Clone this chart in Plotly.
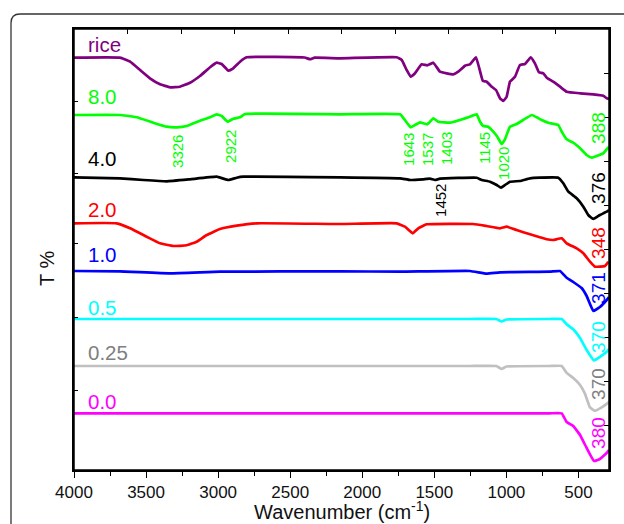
import plotly.graph_objects as go

# ---------------- data (wavenumber cm-1, offset transmittance) ----------------
rice_x = [4000, 3681, 3611, 3542, 3473, 3403, 3334, 3265, 3195, 3126, 3056, 3010, 2975, 2929, 2895, 2848, 2802,
          2400, 2363, 2330, 2154, 1761, 1726, 1692, 1664, 1634, 1588, 1549, 1507, 1461, 1414, 1368, 1334, 1287,
          1253, 1211, 1188, 1164, 1137, 1102, 1072, 1044, 1021, 998, 975, 940, 906, 871, 831, 802, 774, 744, 720,
          675, 628, 582, 489, 397, 328, 304, 288]
rice_y = [412.3, 412.3, 408.3, 400, 391.7, 385.7, 382.7, 383.3, 387.3, 394, 402.7, 407.3, 406, 399.3, 401.7, 408.3,
          412.7, 412.5, 410.8, 412.3, 411.7, 412.7, 410, 400, 393.3, 396.7, 405.7, 404.7, 407.3, 398.3, 396.7, 395.7,
          398.3, 404.3, 405.7, 412.7, 401.7, 389.3, 388.3, 383.3, 380, 371.7, 369, 373.3, 388.3, 393.3, 405, 406,
          412.7, 406.7, 397.7, 396.7, 392.3, 388.3, 383.3, 378.3, 376.7, 375.7, 374.3, 371.7, 371]

s80_x = [4000, 3681, 3565, 3450, 3357, 3287, 3218, 3126, 3056, 3010, 2975, 2934, 2895, 2848, 2814, 2154, 1738,
         1704, 1664, 1634, 1600, 1549, 1507, 1472, 1391, 1322, 1253, 1206, 1183, 1160, 1126, 1091, 1063, 1033,
         1010, 975, 929, 883, 824, 790, 755, 709, 640, 616, 582, 536, 489, 443, 408, 373, 328, 304, 288]
s80_y = [355, 355, 352.7, 347.3, 343.3, 342.7, 344, 349.3, 352.7, 355.7, 354, 348.3, 351.3, 352.7, 356, 355.7,
         355.7, 350, 342.7, 345, 347.7, 345.7, 351.7, 348.3, 347.3, 350, 353.3, 355.7, 348.3, 344, 343.3, 338.3,
         333.3, 326, 330.7, 343.3, 346, 350, 355, 352.7, 350, 347.3, 345, 338.3, 330.7, 327.3, 321.7, 315, 312.3,
         314, 316.7, 320.7, 323]

s40_x = [4000, 3681, 3519, 3357, 3195, 3010, 2929, 2871, 2825, 2154, 1738, 1669, 1577, 1530, 1495, 1461, 1206,
         1171, 1114, 1067, 1037, 1010, 975, 906, 836, 767, 640, 605, 570, 512, 466, 432, 397, 351, 304, 288]
s40_y = [292.7, 291.7, 290, 288.7, 290.7, 293.3, 290, 292.3, 293.3, 292.7, 291.7, 290, 290.7, 291.3, 290, 291.3,
         292.3, 290, 288.3, 285, 282.3, 285, 288.3, 289, 291.7, 292.3, 292.3, 286.7, 278.3, 271.7, 263.3, 255, 251,
         255, 258.3, 260]

s20_x = [4000, 3704, 3611, 3496, 3403, 3311, 3218, 3149, 3079, 2987, 2871, 2732, 2154, 1761, 1704, 1650, 1611,
         1553, 1230, 1137, 1044, 998, 929, 836, 720, 675, 616, 582, 512, 466, 420, 385, 316, 293]
s20_y = [246.7, 246.7, 241.7, 233.3, 226.7, 224, 224.7, 228.3, 235, 241, 244.3, 246.7, 246, 246.7, 243.3, 236.7,
         241.7, 245.7, 246, 244, 241.7, 243.3, 240, 235.7, 230.7, 230, 231.7, 226.7, 221.7, 216.7, 208.3, 203.3,
         204, 208.3]

s10_x = [4000, 3681, 3334, 2987, 2154, 1738, 1253, 1137, 1044, 698, 628, 582, 536, 478, 443, 397, 351, 304, 288]
s10_y = [199, 198.7, 196.7, 198.3, 198.7, 198.3, 199, 196.3, 197.7, 198.3, 199, 192.3, 188, 182, 174, 159, 163,
         170, 173]

s05_x = [4000, 2154, 1253, 1070, 1033, 1000, 700, 616, 582, 536, 489, 443, 392, 351, 304, 288]
s05_y = [151, 151, 151, 151, 148.5, 150.5, 151, 151, 145.8, 140.7, 132, 120, 109.6, 113.1, 118.2, 121]

s025_x = [4000, 2154, 1253, 1070, 1033, 1000, 700, 616, 582, 536, 489, 455, 420, 385, 339, 304, 288]
s025_y = [104, 104, 104, 104, 101, 103.5, 104, 104, 97.1, 92, 85, 76.4, 62.6, 59.2, 62.6, 66.1, 68]

s00_x = [4000, 2154, 1253, 700, 616, 582, 536, 489, 443, 392, 351, 304, 288]
s00_y = [56.7, 56.7, 56.7, 56.7, 56.7, 48, 44, 35, 22, 9, 11, 17, 20]

series_names = ["rice", "8.0", "4.0", "2.0", "1.0", "0.5", "0.25", "0.0"]
series_x = [rice_x, s80_x, s40_x, s20_x, s10_x, s05_x, s025_x, s00_x]
series_y = [rice_y, s80_y, s40_y, s20_y, s10_y, s05_y, s025_y, s00_y]
line_colors = ["#800080", "#00FF00", "#000000", "#FF0000", "#0000FF", "#00FFFF", "#C0C0C0", "#FF00FF"]
label_colors = ["#800080", "#00FF00", "#000000", "#FF0000", "#0000FF", "#00FFFF", "#808080", "#FF00FF"]
label_y = [426, 374, 312, 261, 216, 163, 118, 69]
label_x = 3915

# peak labels: text, x, y, colour, size
peak_text = ["3326", "2922", "1643", "1537", "1403", "1145", "1020", "388",
             "1452", "376", "348", "371", "370", "370", "380"]
peak_x = [3286, 2918, 1683, 1551, 1419, 1155, 1024, 365,
          1461, 365, 365, 365, 365, 365, 365]
peak_y = [319, 324, 321, 321, 322, 322, 307, 342,
          270, 282, 227, 182, 133, 86, 37]
peak_color = ["#00FF00"] * 8 + ["#000000", "#000000", "#FF0000", "#0000FF", "#00FFFF", "#808080", "#FF00FF"]
peak_size = [15, 15, 15, 15, 15, 15, 15, 19, 15, 19, 19, 19, 19, 19, 19]

x_ticks = [4000, 3500, 3000, 2500, 2000, 1500, 1000, 500]
y_ticks = [80, 153, 227, 297, 369]

FONT = "Liberation Sans, Arial, Helvetica, sans-serif"

# ---------------- figure ----------------
fig = go.Figure()
for name, xs, ys, c in zip(series_names, series_x, series_y, line_colors):
    fig.add_trace(go.Scatter(x=xs, y=ys, mode="lines", name=name,
                             line=dict(color=c, width=2.7, shape="spline", smoothing=0.3),
                             showlegend=False, hoverinfo="skip"))
# helper trace (no visible mark) so the frame axes (top / right tick scales) exist
fig.add_trace(go.Scatter(x=[None], y=[None], xaxis="x2", yaxis="y2", mode="lines",
                         showlegend=False, hoverinfo="skip"))

annotations = []
for name, ly, c in zip(series_names, label_y, label_colors):
    annotations.append(dict(x=label_x, y=ly, xref="x", yref="y", text=name, showarrow=False,
                            xanchor="left", yanchor="middle", font=dict(size=20.5, color=c, family=FONT)))
for t, px_, py_, c, s in zip(peak_text, peak_x, peak_y, peak_color, peak_size):
    annotations.append(dict(x=px_, y=py_, xref="x", yref="y", text=t, showarrow=False, textangle=-90,
                            xanchor="center", yanchor="middle", font=dict(size=s, color=c, family=FONT)))

# plot area in pixels: left 74, right 609, top 29, bottom 470
L, R, T, B = 74, 609, 29, 470
W, H = R - L, B - T


def px(xp):
    return round((xp - L) / W, 5)


def py(yp):
    return round((B - yp) / H, 5)


annotations.append(dict(x=px(47), y=py(268), xref="paper", yref="paper", text="T %", showarrow=False,
                        textangle=-90, xanchor="center", yanchor="middle",
                        font=dict(size=20, color="#111111", family=FONT)))
annotations.append(dict(x=px(342), y=py(511), xref="paper", yref="paper",
                        text="Wavenumber (cm<sup>-1</sup>)", showarrow=False,
                        xanchor="center", yanchor="middle",
                        font=dict(size=20, color="#111111", family=FONT)))

# outer rounded frame (only top and left edges are inside the picture)
frame_shapes = [
    dict(type="line", x0=px(11), x1=px(11), y0=py(530), y1=py(23), xref="paper", yref="paper",
         line=dict(color="#333333", width=1.3)),
    dict(type="line", x0=px(20), x1=px(630), y0=py(14), y1=py(14), xref="paper", yref="paper",
         line=dict(color="#333333", width=1.3)),
    dict(type="path", path=f"M{px(11)},{py(23)} Q{px(11)},{py(14)} {px(20)},{py(14)}",
         xref="paper", yref="paper", fillcolor="rgba(0,0,0,0)", line=dict(color="#333333", width=1.3)),
]

fig.update_layout(
    width=624, height=524,
    margin=dict(l=L, r=624 - R, t=T, b=524 - B, pad=0, autoexpand=False),
    paper_bgcolor="white", plot_bgcolor="rgba(0,0,0,0)",
    font=dict(family=FONT, color="#111111"),
    annotations=annotations,
    shapes=frame_shapes + [
        # plot box
        dict(type="rect", x0=0, x1=1, y0=0, y1=1, xref="paper", yref="paper",
             fillcolor="rgba(0,0,0,0)", line=dict(color="black", width=1.5), layer="above")],
    xaxis=dict(domain=[0, 1], anchor="y", range=[4000, 288], tickvals=x_ticks, ticks="outside", ticklen=6,
               tickwidth=1.2, tickcolor="black", showline=True, linecolor="black", linewidth=1.5, mirror=True,
               showgrid=False, zeroline=False, tickfont=dict(size=17, color="#111111"),
               automargin=False,
               minor=dict(dtick=250, tick0=0, ticks="outside", ticklen=4, tickcolor="black", showgrid=False)),
    yaxis=dict(domain=[0, 1], anchor="x", range=[0, H], tickvals=y_ticks, ticks="inside", ticklen=4,
               tickcolor="black", showticklabels=False, showline=True, linecolor="black", linewidth=1.5,
               mirror=True, showgrid=False, zeroline=False, automargin=False),
    xaxis2=dict(domain=[0, 1], anchor="y2", side="top", range=[0, 10], tickvals=list(range(1, 10)),
                ticks="inside", ticklen=5, tickwidth=1.2, tickcolor="black", showticklabels=False,
                showgrid=False, zeroline=False, showline=True, linecolor="black", linewidth=1.5,
                automargin=False),
    yaxis2=dict(domain=[0, 1], anchor="x2", side="right", range=[0, 10], tickvals=list(range(1, 10)),
                ticks="inside", ticklen=5, tickwidth=1.2, tickcolor="black", showticklabels=False,
                showgrid=False, zeroline=False, showline=True, linecolor="black", linewidth=1.5,
                automargin=False),
)

fig.write_html("out.html")
